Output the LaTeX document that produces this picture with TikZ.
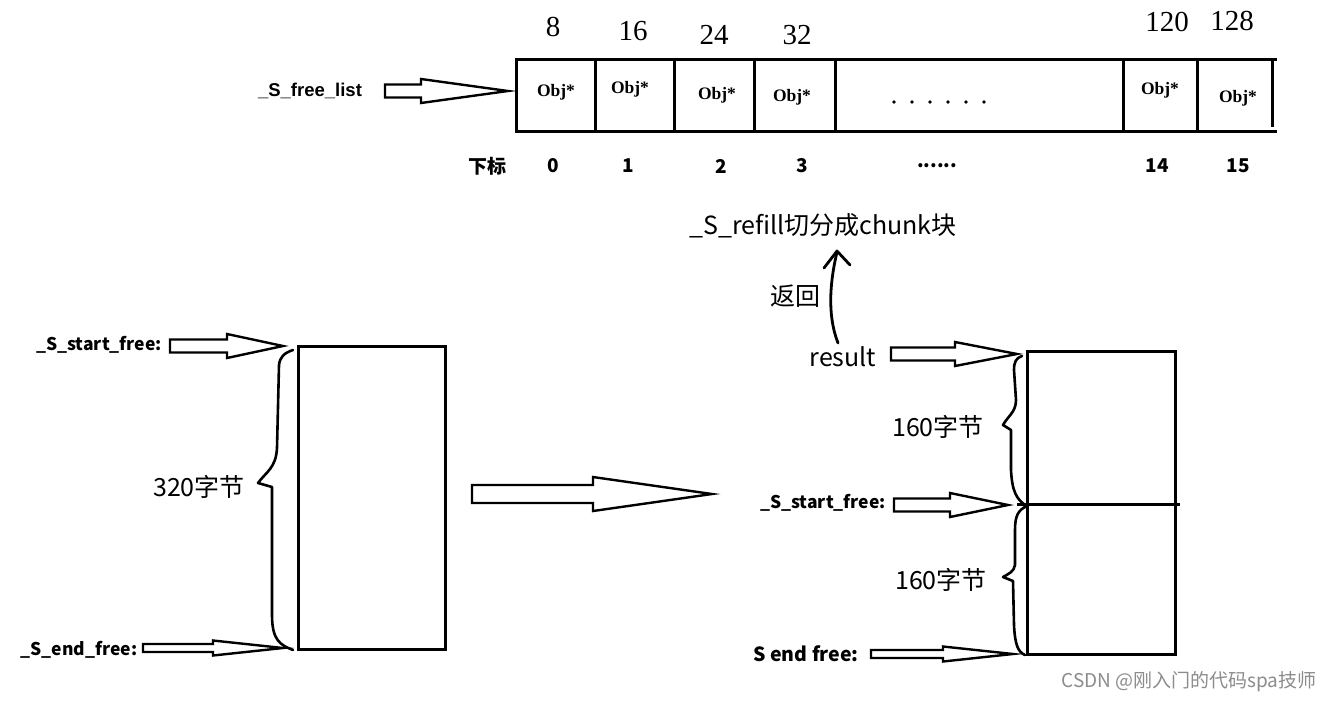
\documentclass[tikz,border=0pt]{standalone}
\usepackage{fontspec}
\setmainfont{Liberation Serif}
\newfontfamily\cjk{Noto Sans CJK SC}
\newfontfamily\lsb{Liberation Sans}
\usetikzlibrary{calc}
\tikzset{
  box/.style={draw, line width=3pt},
  harrow/.style={draw, line width=2.4pt, line join=miter, fill=white},
  brace/.style={draw, line width=2.6pt, line cap=round, line join=round},
  topnum/.style={font=\fontsize{29}{29}\selectfont, inner sep=0pt},
  objl/.style={font=\fontsize{17.5}{18}\selectfont\bfseries, inner sep=0pt},
  idx/.style={font=\cjk\fontsize{19}{19}\selectfont\bfseries, inner sep=0pt},
  ptr/.style={font=\cjk\fontsize{17.5}{18}\selectfont\bfseries, inner sep=0pt},
  lab/.style={font=\cjk\fontsize{25}{25}\selectfont, inner sep=0pt},
}
% hollow arrow: #1 start, #2 tip, #3 shaft half, #4 head half, #5 head length
\newcommand\hollowarrow[5]{%
  \draw[harrow] ($(#1)+(0,#3)$) -- ($(#2)+(-#5,#3)$) -- ($(#2)+(-#5,#4)$) -- (#2)
    -- ($(#2)+(-#5,-#4)$) -- ($(#2)+(-#5,-#3)$) -- ($(#1)+(0,-#3)$) -- cycle;}
\begin{document}
\begin{tikzpicture}[x=1pt,y=-1pt]
\useasboundingbox[fill=white] (0,0) rectangle (1335,701);

% ---------- top array ----------
\draw[box] (516,60) -- (1277,60);
\draw[box] (516,131) -- (1277,131);
\draw[box] (516,58.5) -- (516,132.5);
\foreach \x in {595,674,754,835,1123,1197} \draw[line width=3pt] (\x,60) -- (\x,131);
\draw[line width=3pt] (1272,60) -- (1272,127);

\node[topnum] (n8) at (553,27) {8};
\node[topnum] (n16) at (633,31) {16};
\node[topnum] (n24) at (714,35) {24};
\node[topnum] (n32) at (797,35) {32};
\node[topnum] (n120) at (1167,22) {120};
\node[topnum] (n128) at (1232,21) {128};

\node[objl] (o0) at (556,92) {Obj*};
\node[objl] (o1) at (630,89) {Obj*};
\node[objl] (o2) at (717,95) {Obj*};
\node[objl] (o3) at (792,97) {Obj*};
\node[objl] (o14) at (1160,90) {Obj*};
\node[objl] (o15) at (1238,98) {Obj*};
\foreach \x in {894,912,930,948,966,984} \fill (\x,102) circle (1.9pt);

\node[idx] (xb) at (487,166) {下标};
\node[idx] (i0) at (553,166) {0};
\node[idx] (i1) at (628,166) {1};
\node[idx] (i2) at (721,166) {2};
\node[idx] (i3) at (802,166) {3};
\node[idx] (idots) at (937,166) {......};
\node[idx] (i14) at (1157,166) {14};
\node[idx] (i15) at (1238,166) {15};

\node[font=\lsb\fontsize{18.5}{18}\selectfont\bfseries, inner sep=0pt] (fl) at (310,91) {\_S\_free\_list};
\coordinate (flA) at (385,91);
\coordinate (flB) at (508,91);
\hollowarrow{flA}{flB}{6.5}{12}{87}

% ---------- left block ----------
\node[box, minimum width=147pt, minimum height=303pt, inner sep=0pt] (pool) at (371.5,497.5) {};
\begin{scope}
  \clip (300,600) rectangle (450,662);
  \node[font=\cjk\fontsize{22}{22}\selectfont, inner sep=0pt] (byc) at (362,674) {备用池};
\end{scope}

\node[ptr] (ls) at (99,345) {\_S\_start\_free:};
\coordinate (lsA) at (170,346);
\coordinate (lsB) at (283,346);
\hollowarrow{lsA}{lsB}{6.5}{12}{56}

\node[ptr] (le) at (79,650) {\_S\_end\_free:};
\coordinate (leA) at (143,648);
\coordinate (leB) at (283,648);
\hollowarrow{leA}{leB}{4}{7.5}{70}

\draw[brace] (293,350) .. controls (284,353) and (280,357) .. (279,365)
  -- (277,448) .. controls (276,468) and (266,472) .. (258,483)
  -- (272,487) -- (272,615) .. controls (272,640) and (280,645) .. (293,650);
\node[lab] (l320) at (199,487) {320字节};

% ---------- middle arrow ----------
\coordinate (mA) at (472,494);
\coordinate (mB) at (712,494);
\hollowarrow{mA}{mB}{9}{17}{119}

% ---------- right block ----------
\node[box, minimum width=148pt, minimum height=303pt, inner sep=0pt] (chunk) at (1101,502.5) {};
\draw[line width=3pt] (1017,504) -- (1180,504);

\node[lab] (refill) at (823,226) {\_S\_refill切分成chunk块};
\node[lab] (fh) at (795,296) {返回};
\node[lab] (res) at (843,357) {result};
\draw[line width=2.8pt, line cap=round, line join=round]
  (838,343) .. controls (829,320) and (828,290) .. (837,252);
\draw[line width=2.8pt, line cap=round, line join=round]
  (824,268) -- (837,251) -- (850,265);

\coordinate (rA) at (891,354);
\coordinate (rB) at (1017,354);
\hollowarrow{rA}{rB}{6.5}{12}{62}

\node[ptr] (rs) at (823,503) {\_S\_start\_free:};
\coordinate (rsA) at (894,505);
\coordinate (rsB) at (1008,505);
\hollowarrow{rsA}{rsB}{6.5}{12}{58}

\node[ptr, font=\cjk\fontsize{19.5}{20}\selectfont\bfseries] (re) at (806,654) {S end free:};
\coordinate (reA) at (871,654);
\coordinate (reB) at (1013,654);
\hollowarrow{reA}{reB}{4}{7.5}{70}

\draw[brace] (1022,356) .. controls (1016,358) and (1014,362) .. (1014,370)
  -- (1016,400) .. controls (1016,412) and (1008,416) .. (1003,425)
  -- (1011,430) -- (1011,470) .. controls (1012,490) and (1016,500) .. (1027,506);
\draw[brace] (1027,506) .. controls (1018,510) and (1015,516) .. (1015,530)
  -- (1015,565) .. controls (1014,572) and (1008,574) .. (1003,577)
  -- (1013,581) -- (1014,625) .. controls (1015,645) and (1018,652) .. (1025,655);
\node[lab] (l160a) at (938,427) {160字节};
\node[lab] (l160b) at (941,580) {160字节};

\node[font=\cjk\fontsize{19}{19}\selectfont, text=black!45, inner sep=0pt] (wm) at (1189,682) {CSDN @刚入门的代码spa技师};
\end{tikzpicture}
\end{document}
